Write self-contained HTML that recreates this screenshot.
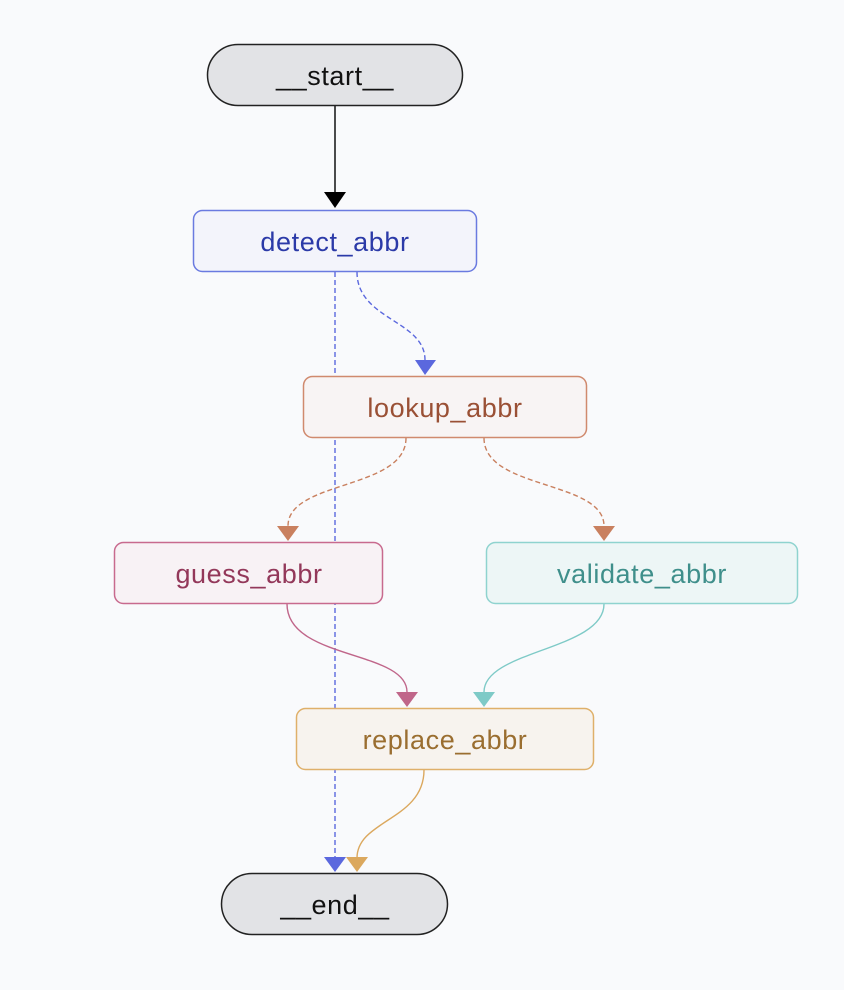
<!DOCTYPE html>
<html><head><style>body{margin:0;background:#f9fafc}svg{display:block}text{font-family:"Liberation Sans",sans-serif;font-size:27px;letter-spacing:0.6px;text-anchor:middle;dominant-baseline:central}</style></head>
<body>
<svg width="844" height="990" viewBox="0 0 844 990">
<rect width="844" height="990" fill="#f9fafc"/>
<g fill="none" stroke-width="1.4">
<line x1="335" y1="106" x2="335" y2="192" stroke="#000"/>
<line x1="335" y1="272" x2="335" y2="858" stroke="#5b68de" stroke-dasharray="5,3"/>
<path d="M357 272 C357 320 425 320 425 360" stroke="#5b68de" stroke-dasharray="5,3"/>
<path d="M406 438 C406 490 288 480 288 526" stroke="#c9805f" stroke-dasharray="5,3"/>
<path d="M484 438 C484 490 604 480 604 526" stroke="#c9805f" stroke-dasharray="5,3"/>
<path d="M287 604 C287 660 407 650 407 692" stroke="#c0668a"/>
<path d="M604 604 C604 650 484 650 484 692" stroke="#7ecac7"/>
<path d="M424 770 C424 820 357 820 357 858" stroke="#dba85e"/>
</g>
<polygon points="324,192 346,192 335,208" fill="#000"/>
<polygon points="415,360 436,360 425,375" fill="#5b68de"/>
<polygon points="277,526 299,526 288,541" fill="#c9805f"/>
<polygon points="593,526 615,526 604,541" fill="#c9805f"/>
<polygon points="396,692 418,692 407,707" fill="#c0668a"/>
<polygon points="473,692 495,692 484,707" fill="#7ecac7"/>
<polygon points="324,857 346,857 335,872" fill="#5b68de"/>
<polygon points="346,857 368,857 357,872" fill="#dba85e"/>
<rect x="207.5" y="44.5" width="255" height="61" rx="30.5" fill="#e2e3e6" stroke="#222" stroke-width="1.5"/>
<text x="335" y="76" fill="#111">__start__</text>
<rect x="193.5" y="210.5" width="283" height="61" rx="9" fill="#f3f4fb" stroke="#6a7ae0" stroke-width="1.5"/>
<text x="335" y="242" fill="#2b3aa8">detect_abbr</text>
<rect x="303.5" y="376.5" width="283" height="61" rx="9" fill="#f8f4f4" stroke="#d08a6e" stroke-width="1.5"/>
<text x="445" y="408" fill="#9a5035">lookup_abbr</text>
<rect x="114.5" y="542.5" width="268" height="61" rx="9" fill="#f8f2f5" stroke="#c86a8e" stroke-width="1.5"/>
<text x="249" y="574" fill="#93385a">guess_abbr</text>
<rect x="486.5" y="542.5" width="311" height="61" rx="9" fill="#edf6f6" stroke="#8fd3cf" stroke-width="1.5"/>
<text x="642" y="574" fill="#3f8f8b">validate_abbr</text>
<rect x="296.5" y="708.5" width="297" height="61" rx="9" fill="#f7f3ee" stroke="#dfb06a" stroke-width="1.5"/>
<text x="445" y="740" fill="#9a6e30">replace_abbr</text>
<rect x="221.5" y="873.5" width="226" height="61" rx="30.5" fill="#e2e3e6" stroke="#222" stroke-width="1.5"/>
<text x="335" y="905" fill="#111">__end__</text>
</svg>
</body></html>
